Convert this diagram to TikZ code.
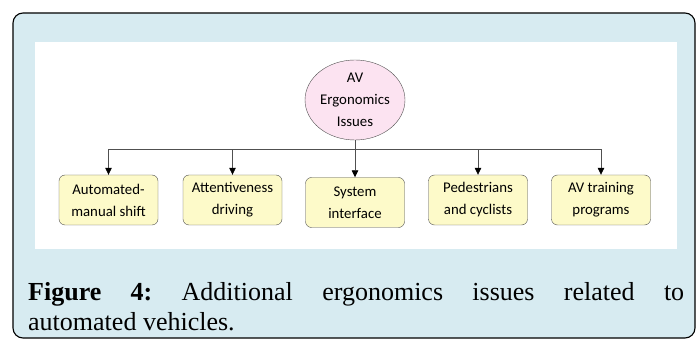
\documentclass[tikz,border=0pt]{standalone}
\usepackage{fontspec}
\setmainfont{Liberation Serif}
\newfontfamily\boxfont{Carlito}
\usetikzlibrary{arrows.meta,shapes.geometric}
\definecolor{framebg}{HTML}{D7EBF1}
\definecolor{hubpink}{HTML}{FCE3F1}
\definecolor{boxyellow}{HTML}{FDFAC9}
\definecolor{edgegray}{HTML}{505050}
\frenchspacing

\begin{document}
\begin{tikzpicture}[x=1pt,y=-1pt,
    issue/.style={draw=edgegray,fill=boxyellow,rounded corners=6pt,minimum width=99pt,minimum height=50pt,
        inner sep=0pt,align=center,font=\boxfont\fontsize{14.8}{22}\selectfont},
    link/.style={draw=edgegray,line width=0.7pt,-{Triangle[length=7pt,width=6.5pt,color=black]}}]
                \useasboundingbox (0,0) rectangle (699,339);
                \draw[fill=framebg,line width=1.1pt,rounded corners=10pt] (13,13) rectangle (695,338);
                \fill[white] (35,42) rectangle (677,249);

                \node[ellipse,draw=edgegray,fill=hubpink,minimum width=100pt,minimum height=80pt,inner sep=0pt,
                    align=center,font=\boxfont\fontsize{14.8}{22}\selectfont] (hub) at (355,100) {AV\\Ergonomics\\Issues};
                \coordinate (bus) at (355,149);

                \foreach \name/\x/\y/\txt in {ams/108.5/200/{Automated-\\manual shift},att/232.5/200/{Attentiveness\\driving},
                    sys/355/202.5/{System\\interface},ped/478/200/{Pedestrians\\and cyclists},avt/601/200/{AV training\\programs}} {
                    \node[issue] (\name) at (\x,\y) {\txt};
                }

                \draw[link] (hub) -- (sys);
                \foreach \name in {ams,att,ped,avt} {
                    \draw[link] (bus) -| (\name);
                }

                \node[anchor=north west,inner sep=0pt,text width=656pt,align=justify,font=\fontsize{26}{30}\selectfont] (cap)
                    at (28,282) {\textbf{Figure 4:} Additional ergonomics issues related to\linebreak automated vehicles.};
\end{tikzpicture}
\end{document}
